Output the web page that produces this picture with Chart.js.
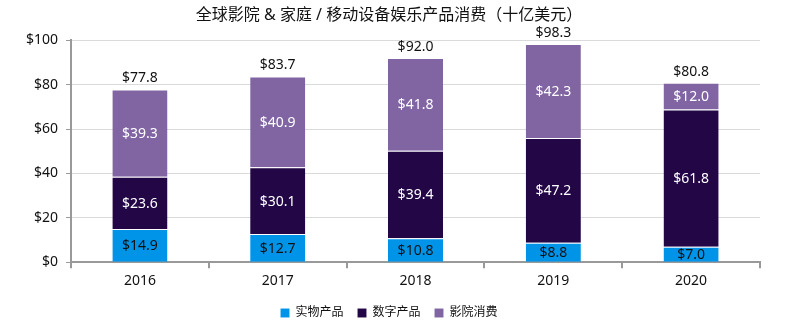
<!DOCTYPE html>
<html lang="zh">
<head>
  <meta charset="UTF-8" />
  <title>全球影院 & 家庭 / 移动设备娱乐产品消费</title>
  <script src="https://cdn.jsdelivr.net/npm/chart.js"></script>
  <style>
    html, body { margin: 0; padding: 0; background: #fff; }
    #wrap { width: 796px; height: 332px; }
  </style>
</head>
<body>
  <div id="wrap"><canvas id="chart"></canvas></div>
  <script>
    const years = ['2016', '2017', '2018', '2019', '2020'];
    const physical = [14.9, 12.7, 10.8, 8.8, 7.0];
    const digital = [23.6, 30.1, 39.4, 47.2, 61.8];
    const cinema = [39.3, 40.9, 41.8, 42.3, 12.0];
    const totals = [77.8, 83.7, 92.0, 98.3, 80.8];
    const seriesNames = ['实物产品', '数字产品', '影院消费'];

    const FONT = "'Noto Sans', 'Noto Sans CJK SC', sans-serif";

    // draws the value inside each segment and the total above each bar
    const labelPlugin = {
      id: 'barLabels',
      afterDatasetsDraw(chart) {
        const ctx = chart.ctx;
        ctx.save();
        ctx.font = '14px ' + FONT;
        ctx.textAlign = 'center';
        ctx.textBaseline = 'middle';
        chart.data.datasets.forEach((ds, i) => {
          const meta = chart.getDatasetMeta(i);
          meta.data.forEach((bar, j) => {
            const mid = (bar.y + bar.base) / 2;
            ctx.fillStyle = i === 0 ? '#111' : '#fff';
            ctx.fillText('$' + ds.data[j].toFixed(1), bar.x, mid + 1);
          });
        });
        const top = chart.getDatasetMeta(2);
        top.data.forEach((bar, j) => {
          ctx.fillStyle = '#111';
          ctx.fillText('$' + totals[j].toFixed(1), bar.x, bar.y - 11);
        });
        ctx.restore();
      }
    };

    new Chart(document.getElementById('chart'), {
      type: 'bar',
      data: {
        labels: years,
        datasets: [
          { label: seriesNames[0], data: physical, backgroundColor: '#0094E8' },
          { label: seriesNames[1], data: digital, backgroundColor: '#230646' },
          { label: seriesNames[2], data: cinema, backgroundColor: '#8165A3' }
        ].map(d => Object.assign(d, {
          borderColor: 'rgba(255,255,255,0.35)',
          borderWidth: { top: 1, bottom: 0, left: 0, right: 0 },
          categoryPercentage: 1.0,
          barPercentage: 0.4
        }))
      },
      options: {
        responsive: true,
        maintainAspectRatio: false,
        animation: false,
        layout: { padding: { left: 18, right: 36, top: 2, bottom: 3 } },
        plugins: {
          title: {
            display: true,
            text: '全球影院 & 家庭 / 移动设备娱乐产品消费（十亿美元）',
            color: '#111',
            font: { family: FONT, size: 16, weight: 'normal' },
            padding: { top: 4, bottom: 15 }
          },
          legend: {
            position: 'bottom',
            labels: {
              color: '#111',
              boxWidth: 9,
              boxHeight: 9,
              padding: 14,
              font: { family: FONT, size: 12 }
            }
          },
          tooltip: { enabled: false }
        },
        scales: {
          x: {
            stacked: true,
            border: { color: '#999', width: 2 },
            grid: { offset: true, drawOnChartArea: false, drawTicks: true, tickLength: 6, color: '#999', lineWidth: 2 },
            ticks: { color: '#111', padding: 4, font: { family: FONT, size: 14 } }
          },
          y: {
            stacked: true,
            min: 0,
            max: 100,
            border: { color: '#999', width: 2 },
            grid: { color: '#dadada', lineWidth: 1, tickLength: 5, tickColor: '#999' },
            ticks: {
              stepSize: 20,
              color: '#111',
              padding: 8,
              font: { family: FONT, size: 14 },
              callback: v => '$' + v
            }
          }
        }
      },
      plugins: [labelPlugin]
    });
  </script>
</body>
</html>
